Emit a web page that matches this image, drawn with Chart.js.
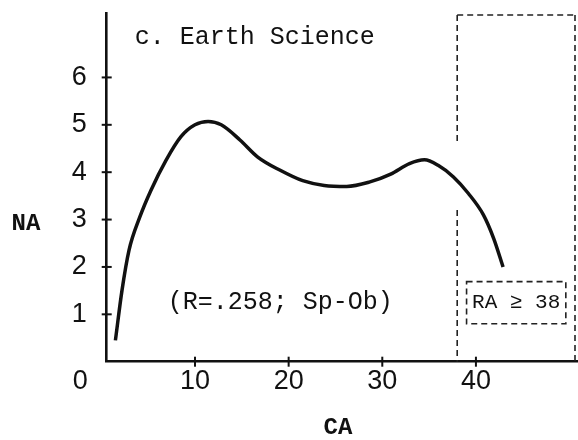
<!DOCTYPE html>
<html><head><meta charset="utf-8">
<script src="https://cdn.jsdelivr.net/npm/chart.js@4"></script>
<style>html,body{margin:0;padding:0;background:#fff}#wrap{width:578px;height:440px;position:relative}</style>
</head><body><div id="wrap"><canvas id="c"></canvas></div>
<script>
// ---- data ----
const caValues = [1.5, 2.2, 2.95, 4.1, 5.3, 6.9, 8.5, 10.0, 11.4, 12.8, 14.8, 16.7, 19.1, 21.5, 23.8, 26.2, 28.6, 30.9, 32.9, 34.5, 36.0, 37.6, 39.2, 40.8, 41.9, 42.9];
const naValues = [0.45, 1.5, 2.35, 3.05, 3.62, 4.25, 4.75, 5.0, 5.07, 5.0, 4.68, 4.32, 4.04, 3.82, 3.72, 3.7, 3.79, 3.96, 4.18, 4.26, 4.14, 3.9, 3.55, 3.1, 2.6, 2.0];
const xTickValues = [10, 20, 30, 40];
const yTickValues = [1, 2, 3, 4, 5, 6];
const raThreshold = 38;
const titleText = 'c. Earth Science';
const statText = '(R=.258; Sp-Ob)';
const raText = 'RA \u2265 38';
const xTitle = 'CA', yTitle = 'NA', originLabel = '0';

const ink = '#111';
const tickFont = { family: '"Liberation Sans", Arial, sans-serif', size: 27 };
const monoFam = '"Liberation Mono", "DejaVu Sans Mono", monospace';

const deco = {
  id: 'deco',
  afterDatasetsDraw(chart) {
    const { ctx, chartArea: a, scales: { x, y } } = chart;
    ctx.save();
    // tick crosses
    ctx.strokeStyle = ink; ctx.lineWidth = 2; ctx.setLineDash([]);
    yTickValues.forEach(v => { const py = y.getPixelForValue(v); ctx.beginPath(); ctx.moveTo(a.left - 5, py); ctx.lineTo(a.left + 5, py); ctx.stroke(); });
    xTickValues.forEach(v => { const px = x.getPixelForValue(v); ctx.beginPath(); ctx.moveTo(px, a.bottom - 5); ctx.lineTo(px, a.bottom + 5); ctx.stroke(); });
    // dashed RA region
    ctx.strokeStyle = '#222'; ctx.lineWidth = 1.6; ctx.setLineDash([6, 4]);
    const xl = x.getPixelForValue(raThreshold);
    const xr = a.right - 3;
    const yt = a.top + 2;
    ctx.beginPath();
    ctx.moveTo(xl, yt); ctx.lineTo(xr, yt);
    ctx.moveTo(xr, yt); ctx.lineTo(xr, a.bottom);
    ctx.moveTo(xl, yt); ctx.lineTo(xl, y.getPixelForValue(4.65));
    ctx.moveTo(xl, y.getPixelForValue(3.2)); ctx.lineTo(xl, a.bottom);
    ctx.stroke();
    // small RA box
    const bl = x.getPixelForValue(raThreshold + 1), br = x.getPixelForValue(49.6);
    const bt = y.getPixelForValue(1.69), bb = y.getPixelForValue(0.8);
    ctx.beginPath(); ctx.rect(bl, bt, br - bl, bb - bt); ctx.stroke();
    ctx.setLineDash([]);
    ctx.fillStyle = ink; ctx.textBaseline = 'middle';
    ctx.font = '21px ' + monoFam; ctx.textAlign = 'center';
    ctx.fillText(raText, (bl + br) / 2, (bt + bb) / 2);
    // title and stat
    ctx.textAlign = 'left';
    ctx.font = '25px ' + monoFam;
    ctx.fillText(titleText, a.left + 28, 37);
    ctx.fillText(statText, a.left + 61, 302);
    // axis titles
    ctx.font = 'bold 24px ' + monoFam; ctx.textAlign = 'center';
    ctx.fillText(yTitle, 26, y.getPixelForValue(3) + 4);
    ctx.fillText(xTitle, 338, 428);
    // origin label
    ctx.font = tickFont.size + 'px ' + tickFont.family; ctx.textAlign = 'right';
    ctx.fillText(originLabel, a.left - 19, a.bottom + 20);
    ctx.restore();
  }
};

new Chart(document.getElementById('c'), {
  type: 'line',
  data: {
    datasets: [{
      data: caValues.map((v, i) => ({ x: v, y: naValues[i] })),
      borderColor: ink, borderWidth: 3.5, pointRadius: 0, fill: false,
      cubicInterpolationMode: 'monotone'
    }]
  },
  options: {
    responsive: true, maintainAspectRatio: false, animation: false,
    layout: { padding: { top: 13, right: 0, left: 0, bottom: 0 } },
    plugins: { legend: { display: false }, tooltip: { enabled: false } },
    scales: {
      x: {
        type: 'linear', min: 0.57, max: 50.9,
        afterBuildTicks: s => { s.ticks = xTickValues.map(v => ({ value: v })); },
        afterFit: s => { s.height = 78.3; s.paddingLeft = 0; s.paddingRight = 0; s.paddingTop = 0; s.paddingBottom = 0; },
        grid: { display: true, drawOnChartArea: false, drawTicks: false },
        border: { display: true, color: ink, width: 2.6 },
        ticks: { color: ink, font: tickFont, padding: 4, maxRotation: 0 }
      },
      y: {
        min: 0, max: 7.36,
        afterBuildTicks: s => { s.ticks = yTickValues.map(v => ({ value: v })); },
        afterFit: s => { s.width = 106.7; s.paddingTop = 0; s.paddingBottom = 0; s.paddingLeft = 0; s.paddingRight = 0; },
        grid: { display: true, drawOnChartArea: false, drawTicks: false },
        border: { display: true, color: ink, width: 2.6 },
        ticks: { color: ink, font: tickFont, padding: 20 }
      }
    }
  },
  plugins: [deco]
});
</script></body></html>
